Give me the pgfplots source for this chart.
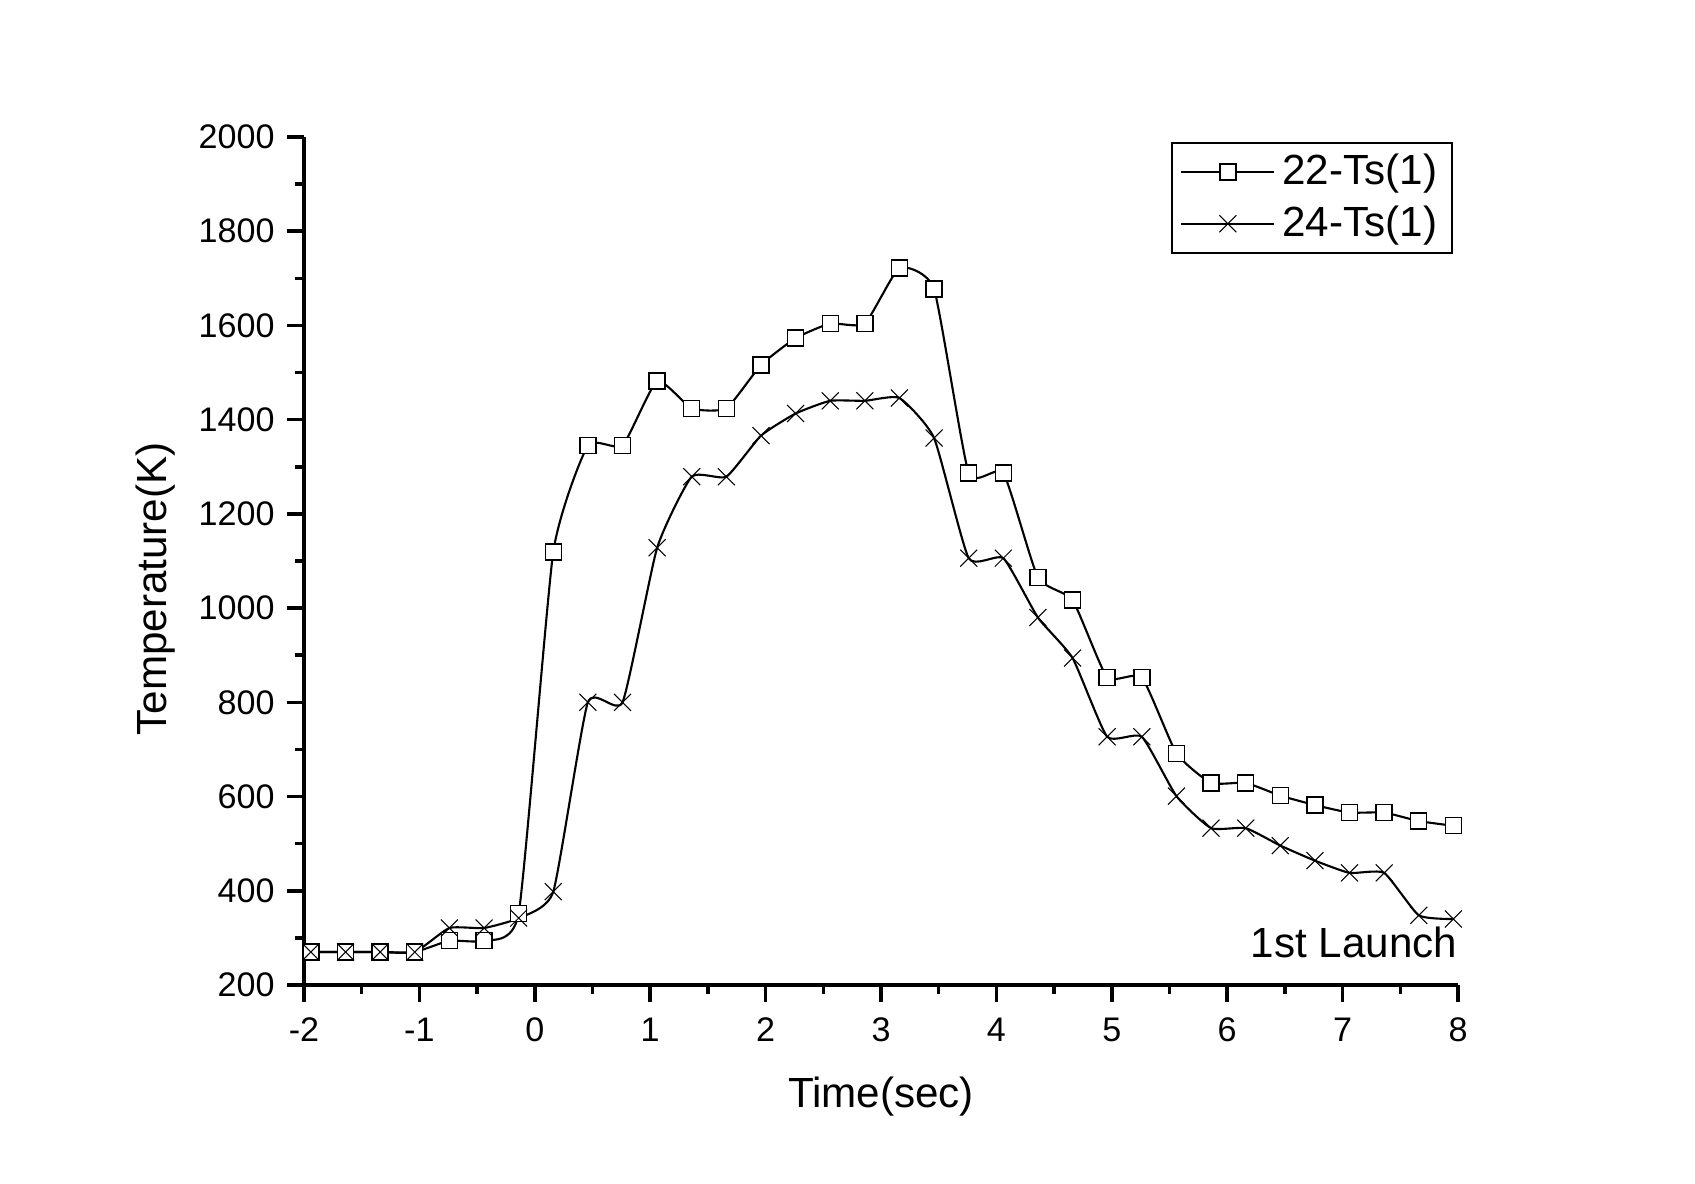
\documentclass[border=0pt]{standalone}
\usepackage{fontspec}
\setmainfont{Liberation Sans}
\usepackage{pgfplots}
\pgfplotsset{compat=1.18}

\pgfplotstableread{
t      Ta     Tb
-1.94  270    270
-1.64  270    270
-1.34  270    270
-1.04  270    270
-0.74  294    321
-0.44  294    321
-0.14  352    342
0.16   1119   398
0.46   1345   800
0.76   1345   800
1.06   1482   1128
1.36   1424   1279
1.66   1424   1279
1.96   1516   1366
2.26   1573   1413
2.56   1604   1440
2.86   1604   1440
3.16   1722   1446
3.46   1677   1361
3.76   1287   1106
4.06   1287   1106
4.36   1065   980
4.66   1017   894
4.96   853    727
5.26   853    727
5.56   692    601
5.86   629    533
6.16   629    533
6.46   602    496
6.76   582    464
7.06   566    438
7.36   566    438
7.66   548    348
7.96   538    340
}\launchdata

\begin{document}
\begin{tikzpicture}
\useasboundingbox (-30.4mm,-19.8mm) rectangle (139.1mm,98.5mm);
\begin{axis}[
  scale only axis,
  width=115.4mm,
  height=84.8mm,
  xmin=-2, xmax=8,
  ymin=200, ymax=2000,
  axis lines*=left,
  axis line style={line width=1pt},
  tick align=outside,
  tick style={line width=1pt, black},
  major tick length=1.7mm,
  minor tick length=0.9mm,
  xtick={-2,-1,...,8},
  ytick={200,400,...,2000},
  minor x tick num=1,
  minor y tick num=1,
  tick label style={font=\fontsize{9.7}{11}\selectfont},
  /pgf/number format/assume math mode=true,
  /pgf/number format/1000 sep={},
  xticklabel style={yshift=-0.35mm},
  yticklabel style={xshift=0mm},
  xlabel={Time(sec)},
  ylabel={Temperature(K)},
  label style={font=\fontsize{12}{14}\selectfont},
  xlabel style={at={(axis description cs:0.5,-0.131)}, anchor=center},
  ylabel style={at={(axis description cs:-0.129,0.467)}, anchor=center},
  legend style={at={(axis description cs:1,1)}, anchor=north east,
    xshift=-0.5mm, yshift=-0.5mm, draw=black, line width=0.5pt,
    font=\fontsize{12}{14}\selectfont, inner xsep=0.8mm, inner ysep=0.4mm,
    row sep=0.2mm},
  legend cell align=left,
  legend image code/.code={
    \draw[mark repeat=2,mark phase=2] plot coordinates {(0mm,0mm)(4.65mm,0mm)(9.3mm,0mm)};},
]
\addplot[black, line width=0.6pt, smooth, tension=0.3, mark=square*,
  mark size=0.8mm, mark options={fill=white, line width=0.4pt, solid}]
  table[x=t, y=Ta] {\launchdata};
\addlegendentry{22-Ts(1)}
\addplot[black, line width=0.6pt, smooth, tension=0.3, mark=x,
  mark size=1.2mm, mark options={line width=0.3pt, solid}]
  table[x=t, y=Tb] {\launchdata};
\addlegendentry{24-Ts(1)}
\node[anchor=base east, inner sep=0pt, font=\fontsize{12}{14}\selectfont]
  at (axis description cs:1,0.033) {1st Launch};
\end{axis}
\end{tikzpicture}
\end{document}
